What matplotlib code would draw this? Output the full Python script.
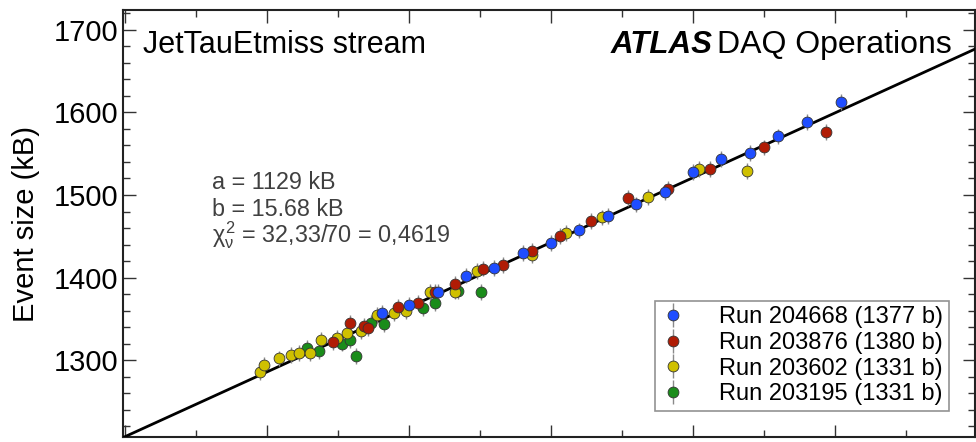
import numpy as np
import matplotlib
matplotlib.use("Agg")
import matplotlib.pyplot as plt

plt.rcParams['font.family'] = ['Liberation Sans', 'DejaVu Sans']
plt.rcParams['mathtext.fontset'] = 'custom'
plt.rcParams['mathtext.rm'] = 'Liberation Sans'
plt.rcParams['mathtext.it'] = 'Liberation Sans'

# fit parameters
fit_a = 1129.0
fit_b = 15.68

# Run 204668 (blue)
mu_204668 = [14.04, 15.01, 16.01, 17.0, 18.0, 19.0, 20.0, 21.0, 22.0, 23.0,
             24.0, 25.0, 26.0, 27.0, 28.0, 29.0, 30.2]
size_204668 = [1356.8, 1366.5, 1382.6, 1402.4, 1411.6, 1429.7, 1442.3, 1457.2,
               1474.5, 1488.6, 1503.7, 1527.7, 1543.9, 1550.9, 1570.9, 1588.4, 1612.3]

# Run 203876 (red)
mu_203876 = [12.31, 12.92, 13.42, 13.54, 14.6, 15.33, 15.92, 16.62, 17.62, 18.32,
             19.32, 20.31, 21.41, 22.7, 24.13, 25.6, 27.5, 29.7]
size_203876 = [1322.1, 1345.6, 1341.1, 1338.7, 1364.7, 1369.8, 1382.6, 1392.7,
               1410.9, 1414.9, 1432.2, 1450.3, 1468.4, 1496.2, 1507.1, 1531.8,
               1557.6, 1576.3]

# Run 203602 (yellow)
mu_203602 = [9.75, 9.89, 10.43, 10.83, 11.13, 11.51, 11.91, 12.45, 12.82, 13.31,
             13.86, 14.47, 14.91, 15.74, 16.62, 17.38, 19.32, 20.53, 21.8, 23.42,
             25.22, 26.9]
size_203602 = [1285.9, 1294.6, 1302.2, 1306.0, 1309.1, 1309.1, 1324.2, 1326.8,
               1333.0, 1334.8, 1354.8, 1357.2, 1359.9, 1382.2, 1383.1, 1407.6,
               1427.0, 1453.9, 1472.9, 1497.5, 1531.3, 1528.8]

# Run 203195 (green)
mu_203195 = [11.42, 11.83, 12.63, 12.93, 13.12, 13.65, 14.12, 15.51, 15.93,
             16.73, 17.52]
size_203195 = [1315.1, 1311.1, 1320.2, 1324.2, 1305.2, 1345.3, 1343.3, 1363.2,
               1368.9, 1384.0, 1382.2]

err = 9.5

runs = [
    (mu_204668, size_204668, '#1f4dff', 'Run 204668 (1377 b)'),
    (mu_203876, size_203876, '#b01c05', 'Run 203876 (1380 b)'),
    (mu_203602, size_203602, '#cfc000', 'Run 203602 (1331 b)'),
    (mu_203195, size_203195, '#1a8c1a', 'Run 203195 (1331 b)'),
]

fig = plt.figure(figsize=(9.76, 4.42), dpi=100)
ax = fig.add_axes([123/976, 5/442, 852/976, 427/442])

xmin, xmax = 4.93, 34.93
xx = np.array([xmin, xmax])
ax.plot(xx, fit_a + fit_b * xx, color='black', lw=2.0, zorder=3)

# draw in reverse so blue ends up on top
for mu, size, col, lab in runs[::-1]:
    ax.errorbar(mu, size, yerr=err, fmt='o', color=col, ecolor='#8a8a8a',
                elinewidth=1.0, capsize=0, markersize=7.8,
                markeredgecolor='#333333', markeredgewidth=0.6, label=lab,
                zorder=4)

ax.set_xlim(xmin, xmax)
ax.set_ylim(1207, 1724)
ax.set_xticks(np.arange(5, 35, 5))
ax.set_xticks(np.arange(7.5, 35, 5), minor=True)
ax.set_yticks(np.arange(1300, 1701, 100))
ax.set_yticks(np.arange(1220, 1724, 20), minor=True)
ax.tick_params(which='both', direction='in', top=True, right=True,
               labelbottom=False, labelsize=21, color='#333333')
ax.tick_params(which='major', length=9, width=1.0)
ax.tick_params(which='minor', length=5, width=1.0)
for sp in ax.spines.values():
    sp.set_linewidth(1.5)
    sp.set_color('#222222')

ax.set_ylabel('Event size (kB)', fontsize=21, labelpad=10)

ax.text(0.0235, 0.899, 'JetTauEtmiss stream', transform=ax.transAxes,
        fontsize=22, va='baseline', ha='left')
ax.text(0.6925, 0.899, 'ATLAS', transform=ax.transAxes, fontsize=22.5,
        fontweight='bold', fontstyle='italic', va='baseline', ha='right')
ax.text(0.973, 0.899, 'DAQ Operations', transform=ax.transAxes,
        fontsize=23, va='baseline', ha='right')

stat_col = '#404040'
ax.text(0.1045, 0.581, 'a = 1129 kB', transform=ax.transAxes, fontsize=16.8,
        color=stat_col, va='baseline')
ax.text(0.1045, 0.5176, 'b = 15.68 kB', transform=ax.transAxes, fontsize=16.8,
        color=stat_col, va='baseline')
ax.text(0.1045, 0.4567, r'$\chi^2_\nu$ = 32,33/70 = 0,4619', transform=ax.transAxes,
        fontsize=16.8, color=stat_col, va='baseline')

handles, labels = ax.get_legend_handles_labels()
leg = ax.legend(handles[::-1], labels[::-1], loc='lower right',
                bbox_to_anchor=(0.9695, 0.061), borderaxespad=0,
                fontsize=17, frameon=True, fancybox=False, handletextpad=1.45,
                labelspacing=0.15, borderpad=0.25, handlelength=1.0)
leg.get_frame().set_edgecolor('#777777')
leg.get_frame().set_linewidth(1.2)

fig.savefig('out.png', dpi=100)
